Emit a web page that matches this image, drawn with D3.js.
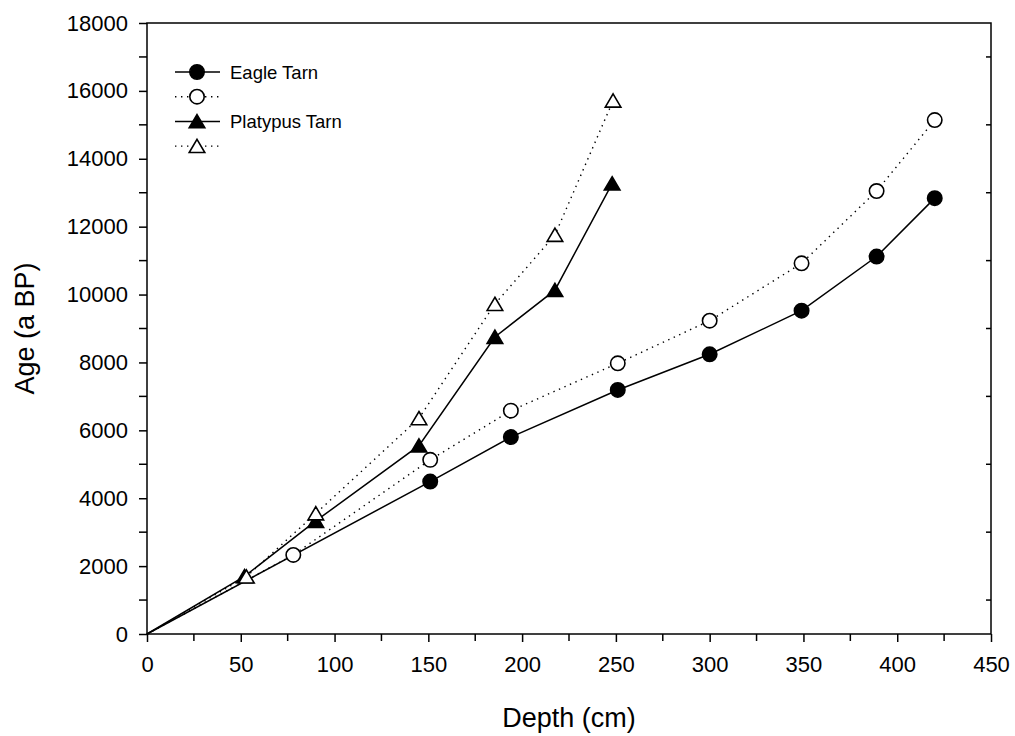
<!DOCTYPE html>
<meta charset="utf-8">
<body style="margin:0;background:#fff">
<svg id="chart"></svg>
<script src="https://cdn.jsdelivr.net/npm/d3@7/dist/d3.min.js"></script>
<script>
// depth (cm) / age (a BP); 0,0 is where every line starts
var eagleDepth = [0, 151, 194, 251, 300, 349, 389, 420];
var eagleAge = [0, 4490, 5800, 7190, 8240, 9525, 11120, 12840];
var eagleOpenDepth = [0, 78, 151, 194, 251, 300, 349, 389, 420];
var eagleOpenAge = [0, 2330, 5130, 6580, 7975, 9230, 10920, 13050, 15140];
var platyDepth = [0, 52, 90, 145, 185.5, 217.5, 248];
var platyAge = [0, 1700, 3330, 5550, 8750, 10130, 13270];
var platyOpenDepth = [0, 53, 90, 145, 185.5, 217.5, 248.5];
var platyOpenAge = [0, 1690, 3550, 6355, 9720, 11755, 15710];

var legendLabels = ["Eagle Tarn", "", "Platypus Tarn", ""];
var xTicks = [0, 50, 100, 150, 200, 250, 300, 350, 400, 450];
var yTicks = [0, 2000, 4000, 6000, 8000, 10000, 12000, 14000, 16000, 18000];

var width = 1015, height = 736;
var margin = {left: 147, top: 23, right: 24, bottom: 102};
var font = "'Liberation Sans', Arial, sans-serif";

var svg = d3.select("#chart").attr("width", width).attr("height", height);

var x = d3.scaleLinear().domain([0, 450]).range([margin.left, width - margin.right]);
var y = d3.scaleLinear().domain([0, 18000]).range([height - margin.bottom, margin.top]);

function zip(a, b) { return a.map(function(d, i) { return [d, b[i]]; }); }

var series = [
	{pts: zip(eagleDepth, eagleAge), shape: "circle", fill: "#000", dash: null},
	{pts: zip(eagleOpenDepth, eagleOpenAge), shape: "circle", fill: "#fff", dash: "1.4 4.6"},
	{pts: zip(platyDepth, platyAge), shape: "triangle", fill: "#000", dash: null},
	{pts: zip(platyOpenDepth, platyOpenAge), shape: "triangle", fill: "#fff", dash: "1.4 4.6"}
];

// frame
svg.append("rect")
	.attr("x", x(0)).attr("y", y(18000))
	.attr("width", x(450) - x(0)).attr("height", y(0) - y(18000))
	.attr("fill", "none").attr("stroke", "#000").attr("stroke-width", 1.5);

// bottom axis, ticks outward (minor every 25)
var xAxis = d3.axisBottom(x).tickValues(xTicks).tickSize(8).tickPadding(14).tickFormat(d3.format("d"));
var gx = svg.append("g").attr("transform", "translate(0," + y(0) + ")").call(xAxis);
gx.select(".domain").remove();
gx.selectAll(".tick line").attr("stroke-width", 1.5);
gx.selectAll("text").attr("font-family", font).attr("font-size", 22).attr("fill", "#000");
gx.selectAll(".minor").data(d3.range(25, 450, 50)).enter().append("line")
	.attr("x1", function(d) { return x(d); }).attr("x2", function(d) { return x(d); })
	.attr("y1", 0).attr("y2", 7).attr("stroke", "#000").attr("stroke-width", 1.5);

// left axis, ticks outward (minor every 1000)
var yAxis = d3.axisLeft(y).tickValues(yTicks).tickSize(8).tickPadding(11).tickFormat(d3.format("d"));
var gy = svg.append("g").attr("transform", "translate(" + x(0) + ",0)").call(yAxis);
gy.select(".domain").remove();
gy.selectAll(".tick line").attr("stroke-width", 1.5);
gy.selectAll("text").attr("font-family", font).attr("font-size", 22).attr("fill", "#000");
gy.selectAll(".minor").data(d3.range(1000, 18000, 2000)).enter().append("line")
	.attr("y1", function(d) { return y(d); }).attr("y2", function(d) { return y(d); })
	.attr("x1", 0).attr("x2", -8).attr("stroke", "#000").attr("stroke-width", 1.5);

// right side: short inward ticks at the odd thousands
svg.append("g").selectAll("line").data(d3.range(1000, 18000, 2000)).enter().append("line")
	.attr("x1", x(450)).attr("x2", x(450) - 5)
	.attr("y1", function(d) { return y(d); }).attr("y2", function(d) { return y(d); })
	.attr("stroke", "#000").attr("stroke-width", 1.5);

// axis titles
svg.append("text")
	.attr("x", (x(0) + x(450)) / 2).attr("y", 727)
	.attr("text-anchor", "middle").attr("font-family", font).attr("font-size", 27)
	.text("Depth (cm)");
svg.append("text")
	.attr("transform", "translate(34," + (y(0) + y(18000)) / 2 + ") rotate(-90)")
	.attr("text-anchor", "middle").attr("font-family", font).attr("font-size", 27)
	.text("Age (a BP)");

function marker(sel, shape, fill) {
	if (shape == "circle") {
		sel.append("circle").attr("r", 7.2);
	} else {
		sel.append("path").attr("d", "M0,-6.8L7.8,6.4L-7.8,6.4Z");
	}
	sel.select("*").attr("fill", fill).attr("stroke", "#000").attr("stroke-width", 1.6);
}

var line = d3.line().x(function(d) { return x(d[0]); }).y(function(d) { return y(d[1]); });

series.forEach(function(s) {
	var g = svg.append("g");
	g.append("path")
		.attr("d", line(s.pts))
		.attr("fill", "none").attr("stroke", "#000")
		.attr("stroke-width", s.dash ? 1.4 : 1.5)
		.attr("stroke-dasharray", s.dash);
	g.selectAll("g.pt").data(s.pts.filter(function(d) { return d[0] > 0; }))
		.enter().append("g").attr("class", "pt")
		.attr("transform", function(d) { return "translate(" + x(d[0]) + "," + y(d[1]) + ")"; })
		.each(function() { marker(d3.select(this), s.shape, s.fill); });
});

// legend
var legend = svg.append("g").attr("transform", "translate(175,72)");
series.forEach(function(s, i) {
	var row = legend.append("g").attr("transform", "translate(0," + (i * 24.7) + ")");
	row.append("line").attr("x1", 0).attr("x2", 45).attr("y1", 0).attr("y2", 0)
		.attr("stroke", "#000").attr("stroke-width", s.dash ? 1.4 : 1.5)
		.attr("stroke-dasharray", s.dash);
	var m = row.append("g").attr("transform", "translate(22,0)");
	marker(m, s.shape, s.fill);
	row.append("text").attr("x", 55).attr("y", 7)
		.attr("font-family", font).attr("font-size", 18.5)
		.text(legendLabels[i]);
});
</script>
</body>
